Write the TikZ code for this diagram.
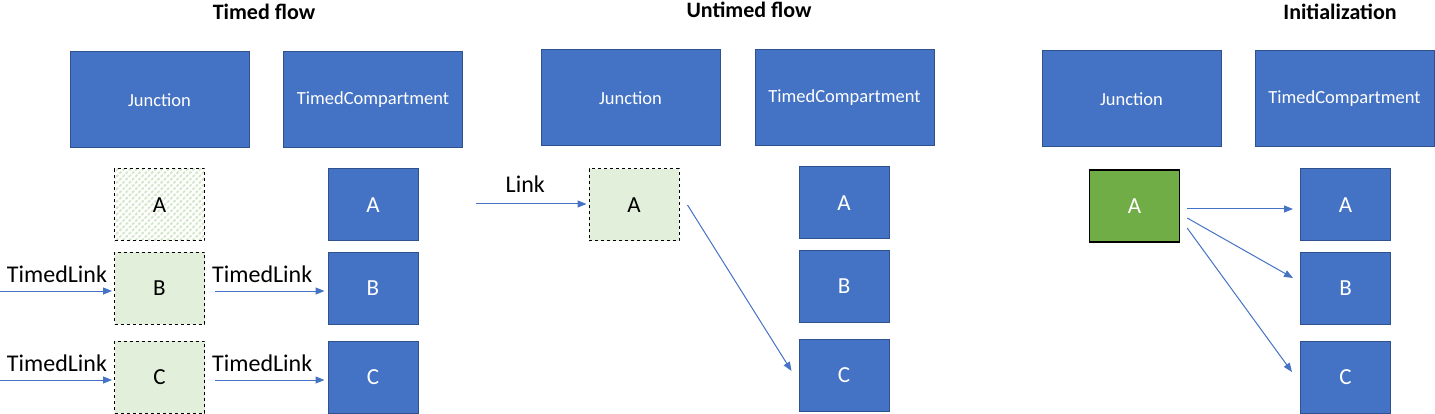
\documentclass[tikz,border=0pt]{standalone}
\usepackage{fontspec}
\setmainfont{Carlito}
\usepackage{tikz}
\usetikzlibrary{arrows.meta, positioning, patterns.meta}
\definecolor{boxblue}{RGB}{68, 114, 196}
\definecolor{edgeblue}{RGB}{47, 82, 143}
\definecolor{palegreen}{RGB}{226, 239, 218}
\definecolor{stripegreen}{RGB}{214, 232, 204}
\definecolor{initgreen}{RGB}{112, 173, 71}

\begin{document}
\begin{tikzpicture}[x=1pt, y=-1pt,
        header/.style={rectangle, draw=edgeblue, fill=boxblue, line width=1pt, text=white, minimum width=179pt, minimum height=96pt, inner sep=0pt, font=\fontsize{18.5}{20}\selectfont},
        cell/.style={rectangle, draw=edgeblue, fill=boxblue, line width=1pt, text=white, minimum width=90pt, minimum height=72pt, inner sep=0pt, font=\fontsize{23}{26}\selectfont},
        port/.style={cell, draw=black, dashed, fill=palegreen, text=black},
        ghost/.style={port, fill=white, pattern={Lines[angle=45, distance=4.5pt, line width=2pt]}, pattern color=stripegreen},
        seed/.style={cell, draw=black, line width=1.3pt, fill=initgreen},
        heading/.style={font=\bfseries\fontsize{22}{26}\selectfont},
        linktext/.style={font=\fontsize{24}{28}\selectfont, text=black},
        arrow/.style={-{Triangle[length=9pt, width=7pt]}, line width=1pt, color=boxblue}
    ]
        \useasboundingbox (0,0) rectangle (1435,414);

        % timed flow
        \node[heading] (ttitle) at (264,12) {Timed flow};
        \node[header] (tjunc) at (159.5,100) {Junction};
        \node[header] (tcomp) at (373,100) {TimedCompartment};
        \node[ghost] (tja) at (159.5,205) {A};
        \node[port] (tjb) at (159.5,288) {B};
        \node[port] (tjc) at (159.5,377) {C};
        \node[cell] (tca) at (373,205) {A};
        \node[cell] (tcb) at (373,288) {B};
        \node[cell] (tcc) at (373,377) {C};
        \coordinate (tinb) at (0,291);
        \coordinate (tinc) at (0,380);

        \draw[arrow, shorten >=2pt] (tinb) -- node[linktext, above=5pt] {TimedLink} (tinb -| tjb.west);
        \draw[arrow, shorten >=2pt] (tinc) -- node[linktext, above=5pt] {TimedLink} (tinc -| tjc.west);
        \draw[arrow, shorten <=10pt, shorten >=3pt] ([yshift=-3pt]tjb.east) -- node[linktext, above=5pt, xshift=-4pt] {TimedLink} ([yshift=-3pt]tcb.west);
        \draw[arrow, shorten <=10pt, shorten >=3pt] ([yshift=-3pt]tjc.east) -- node[linktext, above=5pt, xshift=-4pt] {TimedLink} ([yshift=-3pt]tcc.west);

        % untimed flow
        \node[heading] (utitle) at (749,10) {Untimed flow};
        \node[header] (ujunc) at (630.5,98) {Junction};
        \node[header] (ucomp) at (844.5,98) {TimedCompartment};
        \node[port] (uja) at (634,205) {A};
        \node[cell] (uca) at (844,203) {A};
        \node[cell] (ucb) at (844,286) {B};
        \node[cell] (ucc) at (844,375) {C};
        \coordinate (ulink) at (476,204);

        \draw[arrow, shorten >=2pt] (ulink) -- node[linktext, above=8pt, xshift=-7pt] {Link} (ulink -| uja.west);
        \draw[arrow] ([xshift=8pt]uja.east) -- ([xshift=-7pt, yshift=4pt]ucc.west);

        % initialization
        \node[heading] (ititle) at (1340,12) {Initialization};
        \node[header] (ijunc) at (1131.5,99) {Junction};
        \node[header] (icomp) at (1344.5,99) {TimedCompartment};
        \node[seed] (iseed) at (1134.5,206) {A};
        \node[cell] (ica) at (1345.5,205) {A};
        \node[cell] (icb) at (1345.5,288) {B};
        \node[cell] (icc) at (1345.5,377) {C};

        \draw[arrow] ([xshift=7pt, yshift=-3pt]iseed.east) -- ([xshift=-7pt, yshift=-4pt]ica.west);
        \draw[arrow] ([xshift=7pt, yshift=-12pt]iseed.east) -- ([xshift=-7pt, yshift=10pt]icb.west);
        \draw[arrow] ([xshift=7pt, yshift=-22pt]iseed.east) -- ([xshift=-8pt, yshift=5pt]icc.west);
    \end{tikzpicture}
\end{document}
